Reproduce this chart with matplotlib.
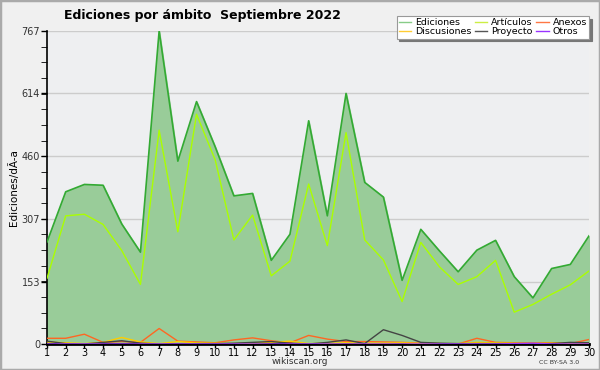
import matplotlib.pyplot as plt
from matplotlib.patches import Rectangle
from matplotlib.ticker import FixedLocator

# datos
dias = list(range(1, 31))
ediciones = [250, 373, 391, 389, 294, 225, 767, 448, 594, 483,
             363, 369, 205, 269, 547, 314, 614, 396, 360, 156,
             281, 228, 177, 230, 254, 165, 113, 185, 195, 265]
articulos = [161, 314, 318, 293, 229, 146, 524, 275, 563, 451,
             255, 316, 167, 203, 392, 241, 518, 255, 206, 104,
             249, 189, 146, 165, 205, 78, 97, 122, 145, 179]
anexos = [14, 14, 24, 4, 6, 4, 38, 7, 5, 3,
          10, 15, 8, 3, 21, 12, 6, 6, 5, 4,
          2, 1, 0, 14, 4, 3, 3, 3, 1, 11]
discusiones = [5, 3, 1, 4, 16, 5, 1, 6, 3, 2,
               1, 2, 4, 7, 1, 2, 3, 2, 2, 3,
               1, 1, 1, 4, 3, 2, 2, 2, 2, 2]
proyecto = [7, 1, 0, 4, 8, 2, 0, 0, 1, 1,
            2, 4, 6, 2, 0, 4, 10, 1, 35, 21,
            4, 2, 1, 1, 1, 1, 1, 1, 4, 3]
otros = [0, 0, 0, 0, 0, 0, 0, 0, 0, 0,
         0, 0, 0, 0, 0, 0, 0, 0, 0, 0,
         0, 0, 0, 0, 0, 1, 2, 0, 0, 0]
yticks = [0, 153, 307, 460, 614, 767]

fig = plt.figure(figsize=(6, 3.7), dpi=100, facecolor='#f0f0f0')
ax = fig.add_axes([47/600, 1-344/370, 542/600, 313/370])
ax.set_facecolor('#eeeff1')

# borde exterior
fig.patches.append(Rectangle((0, 0), 1, 1, transform=fig.transFigure,
                             fill=False, edgecolor='#aaaaaa', linewidth=2.5))

for t in yticks[1:]:
    ax.axhline(t, color='#cccccc', linewidth=1, zorder=1)

ax.fill_between(dias, 0, ediciones, color='#99cc99', zorder=2)
ax.plot(dias, ediciones, color='#33aa33', linewidth=1.2, zorder=3)
ax.plot(dias, articulos, color='#aaff00', linewidth=1, zorder=3)
ax.plot(dias, anexos, color='#ff6622', linewidth=1, zorder=3)
ax.plot(dias, discusiones, color='#ffcc00', linewidth=1, zorder=3)
ax.plot(dias, proyecto, color='#444444', linewidth=1, zorder=3)
ax.plot(dias, otros, color='#9933ff', linewidth=1, zorder=3)

ax.set_xlim(1, 30)
ax.set_ylim(0, 767)
ax.set_xticks(dias)
ax.set_yticks(yticks)
ax.yaxis.set_minor_locator(FixedLocator([767 * i / 20 for i in range(21)]))
ax.tick_params(axis='both', labelsize=7, width=1, pad=1, colors='black')
ax.tick_params(axis='x', length=3, pad=0)
ax.tick_params(axis='y', length=4)
ax.tick_params(axis='y', which='minor', length=4)
ax.tick_params(axis='y', labelcolor='#333333')
for s in ['top', 'right']:
    ax.spines[s].set_visible(False)
ax.spines['left'].set_linewidth(1.2)
ax.spines['bottom'].set_linewidth(2)

ax.set_ylabel('Ediciones/dÃ-a', fontsize=7.5, labelpad=2)
fig.text(0.337, 0.958, 'Ediciones por ámbito  Septiembre 2022', fontsize=9,
         fontweight='bold', ha='center', va='center')
fig.text(0.5, 0.022, 'wikiscan.org', fontsize=6.5, ha='center', va='center', color='#333333')
fig.text(0.965, 0.02, 'CC BY-SA 3.0', fontsize=4.5, ha='right', va='center', color='#333333')

# leyenda
nombres = ['Ediciones', 'Discusiones', 'Artículos', 'Proyecto', 'Anexos', 'Otros']
colores = ['#88cc88', '#ffcc33', '#ccee44', '#555555', '#ff7744', '#9933ff']
handles = [plt.Line2D([], [], color=c, linewidth=1) for c in colores]
leg = fig.legend(handles, nombres, ncol=3, loc='upper right',
                 bbox_to_anchor=(0.99, 0.97), fontsize=6.8, frameon=True,
                 fancybox=False, shadow={'color': '#777777', 'alpha': 1},
                 handlelength=1.3, handletextpad=0.4, columnspacing=0.4,
                 labelspacing=0.0, borderpad=0.25)
leg.get_frame().set_edgecolor('#999999')
leg.get_frame().set_linewidth(0.8)

fig.savefig('out.png', dpi=100, facecolor=fig.get_facecolor())
